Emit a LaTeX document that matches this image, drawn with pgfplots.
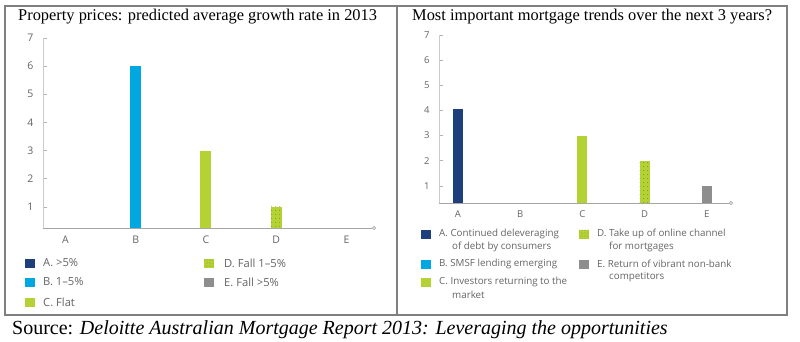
\documentclass[border=0pt]{standalone}
\usepackage{pgfplots}
\pgfplotsset{compat=1.18}
\usepackage{fontspec}
\setmainfont{Liberation Serif}
\newfontfamily\lsans{Open Sans}
\usetikzlibrary{patterns.meta,arrows.meta}
\definecolor{dblue}{HTML}{1F3E7C}
\definecolor{lblue}{HTML}{00A7E1}
\definecolor{dgreen}{HTML}{B4D233}
\definecolor{dgray}{HTML}{8E8E8E}
\definecolor{txtgray}{HTML}{646464}
\definecolor{framegray}{HTML}{7F7F7F}
\pgfplotsset{dstyle/.style={
  scale only axis, axis x line=bottom, axis y line=left,
  x axis line style={draw=black!35, line width=0.8pt, -{Circle[open,length=4pt,width=4pt,fill=white]}},
  y axis line style={draw=black!20, line width=0.8pt, -},
  ytick={1,...,7}, xtick={0,...,4}, xticklabels={A,B,C,D,E},
  x tick style={draw=none},
  y tick style={draw=black!30, line width=0.6pt},
  tick align=inside, major tick length=4pt,
  /pgf/number format/assume math mode=true,
  ybar, bar shift=0pt, ymax=7, clip=true,
}}
\newcommand{\sq}[3]{\fill[#3] (#1,341-#2-4.5) rectangle ++(10,9);}
\newcommand{\sqd}[2]{\fill[dgreen] (#1,341-#2-4.5) rectangle ++(10,9);
  \fill[pattern={Dots[distance=3pt,radius=0.4pt]}, pattern color=dgreen!45!black] (#1,341-#2-4.5) rectangle ++(10,9);}
\begin{document}
\begin{tikzpicture}
\useasboundingbox (0pt,0pt) rectangle (800pt,341pt);
\begin{scope}[x=1pt,y=1pt]
% frame
\draw[framegray, line width=1.2pt] (5,335) rectangle (787,26);
\draw[framegray, line width=1.2pt] (397,335) -- (397,26);
% titles
\node[anchor=base west, inner sep=0pt, font=\fontsize{16.4}{19}\selectfont] at (18,320) {Property prices: predicted average growth rate in 2013};
\node[anchor=base west, inner sep=0pt, font=\fontsize{16.4}{19}\selectfont] at (412,320) {Most important mortgage trends over the next 3 years?};
\node[anchor=base west, inner sep=0pt, font=\fontsize{20}{23}\selectfont] at (12,7) {Source: \textit{Deloitte Australian Mortgage Report 2013: Leveraging the opportunities}};
\end{scope}
% left chart
\begin{axis}[dstyle, at={(43pt,113pt)}, anchor=south west, width=333pt, height=190pt,
  xmin=-0.32, xmax=4.42, ymin=0.25,
  ticklabel style={font=\lsans\fontsize{10.5}{12}\selectfont, text=txtgray},
  yticklabel style={xshift=-6pt}, bar width=11pt]
\addplot[fill=lblue, draw=none] coordinates {(1,6)};
\addplot[fill=dgreen, draw=none] coordinates {(2,3)};
\addplot[fill=dgreen, draw=none, postaction={pattern={Dots[distance=4pt,radius=0.45pt]}, pattern color=dgreen!45!black}] coordinates {(3,1)};
\end{axis}
% right chart
\begin{axis}[dstyle, at={(439pt,138pt)}, anchor=south west, width=294pt, height=168pt,
  xmin=-0.305, xmax=4.42, ymin=0.32,
  ticklabel style={font=\lsans\fontsize{9.5}{11}\selectfont, text=txtgray},
  yticklabel style={xshift=-6pt}, bar width=10pt]
\addplot[fill=dblue, draw=none] coordinates {(0,4.07)};
\addplot[fill=dgreen, draw=none] coordinates {(2,3)};
\addplot[fill=dgreen, draw=none, postaction={pattern={Dots[distance=4pt,radius=0.45pt]}, pattern color=dgreen!45!black}] coordinates {(3,2)};
\addplot[fill=dgray, draw=none] coordinates {(4,1)};
\end{axis}
\begin{scope}[x=1pt,y=1pt]
% left legend
\begin{scope}[every node/.style={anchor=west, inner sep=0pt, font=\lsans\fontsize{11.2}{13}\selectfont, text=txtgray}]
\sq{25}{263}{dblue} \node at (43,341-263) {A. >5\%};
\sq{25}{282}{lblue} \node at (43,341-282) {B. 1–5\%};
\sq{25}{302}{dgreen} \node at (43,341-302) {C. Flat};
\sqd{204}{263} \node at (224,341-263) {D. Fall 1–5\%};
\sq{204}{282}{dgray} \node at (224,341-282) {E. Fall >5\%};
\end{scope}
% right legend
\begin{scope}[every node/.style={anchor=west, inner sep=0pt, font=\lsans\fontsize{9.8}{12}\selectfont, text=txtgray}]
\sq{421}{234}{dblue} \node at (439,341-234) {A. Continued deleveraging};
\node at (452,341-247) {of debt by consumers};
\sq{421}{264}{lblue} \node at (439,341-264) {B. SMSF lending emerging};
\sq{421}{282}{dgreen} \node at (439,341-282) {C. Investors returning to the};
\node at (452,341-295) {market};
\sqd{579}{234} \node at (597,341-234) {D. Take up of online channel};
\node at (609,341-247) {for mortgages};
\sq{579}{264}{dgray} \node at (597,341-264) {E. Return of vibrant non-bank};
\node at (609,341-277) {competitors};
\end{scope}
\end{scope}
\end{tikzpicture}
\end{document}
